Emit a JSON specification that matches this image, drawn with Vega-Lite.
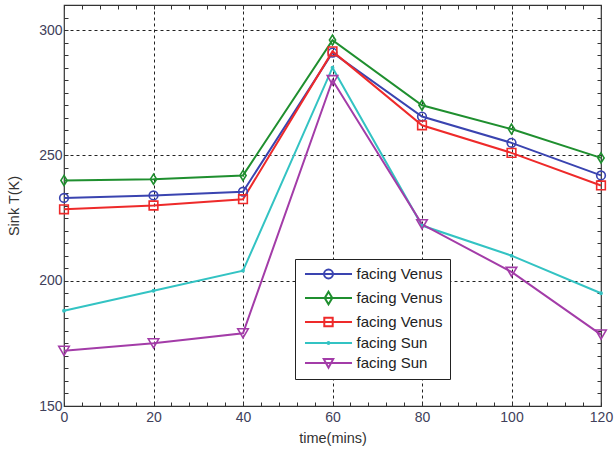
{
  "$schema": "https://vega.github.io/schema/vega-lite/v6.json",
  "autosize": "none",
  "width": 537,
  "height": 401,
  "padding": {"left": 64, "top": 5, "right": 15, "bottom": 49},
  "background": "white",
  "config": {
    "view": {"stroke": "#333", "strokeWidth": 1.2},
    "font": "Liberation Sans",
    "axis": {
      "labelFont": "Liberation Sans",
      "titleFont": "Liberation Sans",
      "labelFontSize": 14,
      "titleFontSize": 14.5,
      "titleFontWeight": "normal",
      "labelColor": "#40405a",
      "titleColor": "#333",
      "domain": false,
      "tickColor": "#333",
      "tickWidth": 1,
      "labelOverlap": false,
      "labelFlush": false
    }
  },
  "data": {
    "values": [
      {"series": "facing Venus 1", "time": 0, "temp": 233},
      {"series": "facing Venus 1", "time": 20, "temp": 234},
      {"series": "facing Venus 1", "time": 40, "temp": 235.5},
      {"series": "facing Venus 1", "time": 60, "temp": 291},
      {"series": "facing Venus 1", "time": 80, "temp": 265.5},
      {"series": "facing Venus 1", "time": 100, "temp": 255},
      {"series": "facing Venus 1", "time": 120, "temp": 242},
      {"series": "facing Venus 2", "time": 0, "temp": 240},
      {"series": "facing Venus 2", "time": 20, "temp": 240.5},
      {"series": "facing Venus 2", "time": 40, "temp": 242},
      {"series": "facing Venus 2", "time": 60, "temp": 296},
      {"series": "facing Venus 2", "time": 80, "temp": 270},
      {"series": "facing Venus 2", "time": 100, "temp": 260.5},
      {"series": "facing Venus 2", "time": 120, "temp": 249},
      {"series": "facing Venus 3", "time": 0, "temp": 228.5},
      {"series": "facing Venus 3", "time": 20, "temp": 230},
      {"series": "facing Venus 3", "time": 40, "temp": 232.5},
      {"series": "facing Venus 3", "time": 60, "temp": 291.5},
      {"series": "facing Venus 3", "time": 80, "temp": 262},
      {"series": "facing Venus 3", "time": 100, "temp": 251},
      {"series": "facing Venus 3", "time": 120, "temp": 238},
      {"series": "facing Sun 1", "time": 0, "temp": 188},
      {"series": "facing Sun 1", "time": 20, "temp": 196},
      {"series": "facing Sun 1", "time": 40, "temp": 204},
      {"series": "facing Sun 1", "time": 60, "temp": 285},
      {"series": "facing Sun 1", "time": 80, "temp": 222},
      {"series": "facing Sun 1", "time": 100, "temp": 210},
      {"series": "facing Sun 1", "time": 120, "temp": 195},
      {"series": "facing Sun 2", "time": 0, "temp": 172},
      {"series": "facing Sun 2", "time": 20, "temp": 175},
      {"series": "facing Sun 2", "time": 40, "temp": 179},
      {"series": "facing Sun 2", "time": 60, "temp": 280},
      {"series": "facing Sun 2", "time": 80, "temp": 222.5},
      {"series": "facing Sun 2", "time": 100, "temp": 203.5},
      {"series": "facing Sun 2", "time": 120, "temp": 178.5}
    ]
  },
  "layer": [
    {
      "mark": {"type": "line", "strokeWidth": 2},
      "encoding": {
        "x": {
          "field": "time", "type": "quantitative",
          "scale": {"domain": [0, 120], "nice": false, "zero": false},
          "axis": {
            "orient": "bottom",
            "title": "time(mins)",
            "titlePadding": 7,
            "values": [0,4,8,12,16,20,24,28,32,36,40,44,48,52,56,60,64,68,72,76,80,84,88,92,96,100,104,108,112,116,120],
            "labelExpr": "datum.value % 20 === 0 ? datum.label : ''",
            "tickSize": -4,
            "labelPadding": 8,
            "grid": true,
            "gridColor": "#222",
            "gridDash": [3, 3],
            "gridWidth": 1,
            "gridOpacity": {"condition": {"test": "datum.value % 20 === 0 && datum.value > 0 && datum.value < 120", "value": 1}, "value": 0}
          }
        },
        "y": {
          "field": "temp", "type": "quantitative",
          "scale": {"domain": [150, 310], "nice": false, "zero": false},
          "axis": {
            "orient": "left",
            "title": "Sink T(K)",
            "titlePadding": 17,
            "values": [150,155,160,165,170,175,180,185,190,195,200,205,210,215,220,225,230,235,240,245,250,255,260,265,270,275,280,285,290,295,300,305,310],
            "labelExpr": "datum.value % 50 === 0 ? datum.label : ''",
            "tickSize": -4,
            "labelPadding": 6,
            "grid": true,
            "gridColor": "#222",
            "gridDash": [3, 3],
            "gridWidth": 1,
            "gridOpacity": {"condition": {"test": "datum.value % 50 === 0 && datum.value > 150", "value": 1}, "value": 0}
          }
        },
        "color": {
          "field": "series", "type": "nominal",
          "scale": {
            "domain": ["facing Venus 1", "facing Venus 2", "facing Venus 3", "facing Sun 1", "facing Sun 2"],
            "range": ["#3a44b0", "#1f8f2f", "#ee2a2a", "#33c3c3", "#a33ca8"]
          },
          "legend": {
            "orient": "none",
            "legendX": 231,
            "legendY": 254,
            "title": null,
            "strokeColor": "#222",
            "fillColor": "white",
            "padding": 7,
            "labelFont": "Liberation Sans",
            "labelFontSize": 15,
            "labelColor": "#222",
            "labelOffset": 20,
            "symbolOffset": 18.5,
            "labelExpr": "slice(datum.value, 0, -2)",
            "symbolSize": 196,
            "symbolStrokeWidth": 2,
            "rowPadding": 4,
            "encode": {
              "symbols": {
                "update": {
                  "fill": {"value": "transparent"},
                  "strokeWidth": {"value": 2},
                  "shape": {"signal": "datum.value=='facing Venus 1'?'M-3.36,0L3.36,0M0.64,0A0.64,0.64,0,1,1,-0.64,0A0.64,0.64,0,1,1,0.64,0':datum.value=='facing Venus 2'?'M-3.36,0L3.36,0M0,-0.9L0.54,0L0,0.9L-0.54,0Z':datum.value=='facing Venus 3'?'M-3.36,0L3.36,0M-0.6,-0.6L0.6,-0.6L0.6,0.6L-0.6,0.6Z':datum.value=='facing Sun 1'?'M-3.36,0L3.36,0M0.14,0A0.14,0.14,0,1,1,-0.14,0A0.14,0.14,0,1,1,0.14,0':'M-3.36,0L3.36,0M-0.68,-0.57L0.68,-0.57L0,0.68Z'"}
                }
              }
            }
          }
        }
      }
    },
    {
      "mark": {"type": "point", "filled": false, "strokeWidth": 1.6, "opacity": 1},
      "encoding": {
        "x": {
          "field": "time", "type": "quantitative",
          "axis": {
            "orient": "top",
            "title": null,
            "labels": false,
            "grid": false,
            "values": [0,4,8,12,16,20,24,28,32,36,40,44,48,52,56,60,64,68,72,76,80,84,88,92,96,100,104,108,112,116,120],
            "tickSize": -4
          }
        },
        "y": {
          "field": "temp", "type": "quantitative",
          "axis": {
            "orient": "right",
            "title": null,
            "labels": false,
            "grid": false,
            "values": [150,155,160,165,170,175,180,185,190,195,200,205,210,215,220,225,230,235,240,245,250,255,260,265,270,275,280,285,290,295,300,305,310],
            "tickSize": -4
          }
        },
        "stroke": {
          "field": "series", "type": "nominal", "legend": null,
          "scale": {
            "range": ["#33c3c3", "#a33ca8", "#3a44b0", "#1f8f2f", "#ee2a2a"]
          }
        },
        "shape": {
          "field": "series", "type": "nominal", "legend": null,
          "scale": {
            "range": ["circle", "triangle-down", "circle", "M0,-1L0.62,0L0,1L-0.62,0Z", "square"]
          }
        },
        "size": {
          "field": "series", "type": "nominal", "legend": null,
          "scale": {
            "type": "ordinal",
            "range": [5, 110, 75, 100, 75]
          }
        }
      }
    }
  ]
}
